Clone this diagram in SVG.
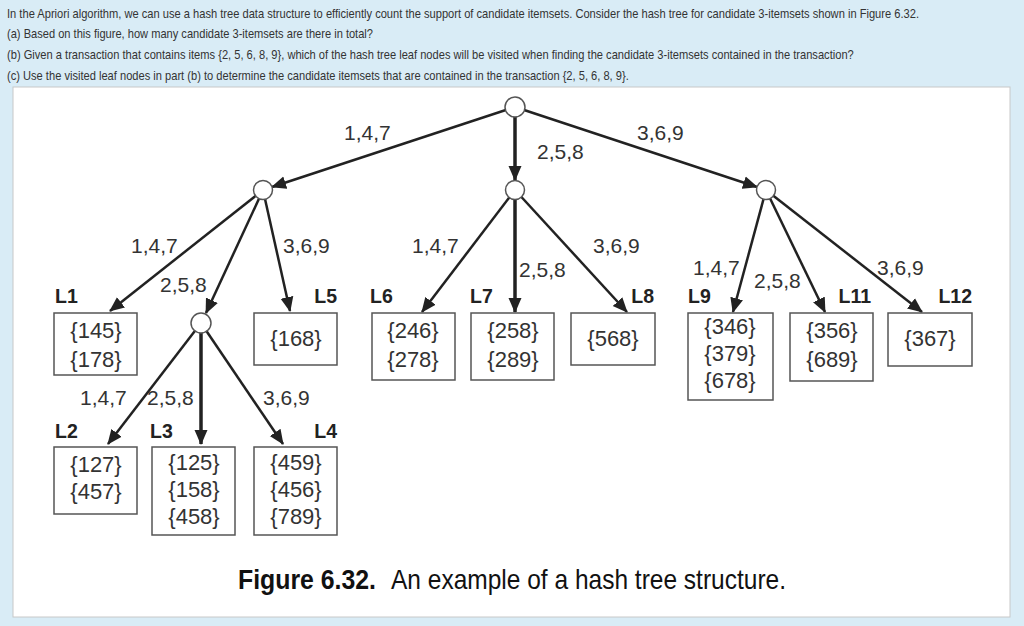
<svg xmlns="http://www.w3.org/2000/svg" width="1024" height="626" viewBox="0 0 1024 626">
<style>
.hd{font-family:"Liberation Sans",Arial,sans-serif;font-size:13.5px;fill:#333}
.lb{font-family:"Liberation Sans",Arial,sans-serif;font-size:21px;fill:#333}
.st{font-family:"Liberation Sans",Arial,sans-serif;font-size:22px;fill:#333;text-anchor:middle}
.lf{font-family:"Liberation Sans",Arial,sans-serif;font-size:19.5px;font-weight:bold;fill:#222}
.box{fill:#fff;stroke:#555;stroke-width:1.5}
.nd{fill:#fff;stroke:#555;stroke-width:1.5}
.e{stroke:#222;stroke-width:2.5;fill:none;marker-end:url(#ah)}
.ev{stroke:#222;stroke-width:3.5;fill:none;marker-end:url(#ah)}
.cap{font-family:"Liberation Sans",Arial,sans-serif;font-size:28px;fill:#111}
</style>
<defs>
<marker id="ah" markerUnits="userSpaceOnUse" markerWidth="16" markerHeight="14" refX="14" refY="7" orient="auto">
<path d="M0,0.5 L15,7 L0,13.5 Z" fill="#222"/>
</marker>
</defs>
<rect x="0" y="0" width="1024" height="626" fill="#d9ecf6"/>
<rect x="13" y="87" width="997" height="530" fill="#fff" stroke="#c8c8c8" stroke-width="1"/>
<g id="header">
<text class="hd" transform="translate(7,18) scale(0.75,1)" x="0" y="0" textLength="1216" lengthAdjust="spacingAndGlyphs">In the Apriori algorithm, we can use a hash tree data structure to efficiently count the support of candidate itemsets. Consider the hash tree for candidate 3-itemsets shown in Figure 6.32.</text>
<text class="hd" transform="translate(7,38) scale(0.75,1)" x="0" y="0" textLength="488" lengthAdjust="spacingAndGlyphs">(a) Based on this figure, how many candidate 3-itemsets are there in total?</text>
<text class="hd" transform="translate(7,59) scale(0.75,1)" x="0" y="0" textLength="1129" lengthAdjust="spacingAndGlyphs">(b) Given a transaction that contains items {2, 5, 6, 8, 9}, which of the hash tree leaf nodes will be visited when finding the candidate 3-itemsets contained in the transaction?</text>
<text class="hd" transform="translate(7,80) scale(0.75,1)" x="0" y="0" textLength="829" lengthAdjust="spacingAndGlyphs">(c) Use the visited leaf nodes in part (b) to determine the candidate itemsets that are contained in the transaction {2, 5, 6, 8, 9}.</text>
</g>
<g id="connectors">
<line class="e" x1="515" y1="107" x2="272" y2="187"/>
<line class="ev" x1="515" y1="107" x2="515" y2="180"/>
<line class="e" x1="515" y1="107" x2="757" y2="187"/>
<line class="e" x1="263" y1="190" x2="110" y2="311"/>
<line class="e" x1="263" y1="190" x2="206" y2="313"/>
<line class="e" x1="263" y1="190" x2="290" y2="311"/>
<line class="e" x1="515" y1="190" x2="422" y2="312"/>
<line class="ev" x1="515" y1="190" x2="515" y2="312"/>
<line class="e" x1="515" y1="190" x2="627" y2="312"/>
<line class="e" x1="766" y1="190" x2="733" y2="312"/>
<line class="e" x1="766" y1="190" x2="825" y2="312"/>
<line class="e" x1="766" y1="190" x2="922" y2="312"/>
<line class="e" x1="201" y1="323" x2="108" y2="444"/>
<line class="ev" x1="201" y1="323" x2="201" y2="444"/>
<line class="e" x1="201" y1="323" x2="283" y2="444"/>
</g>
<g id="edge-labels">
<text class="lb" x="344" y="140">1,4,7</text>
<text class="lb" x="537" y="159">2,5,8</text>
<text class="lb" x="637" y="140">3,6,9</text>
<text class="lb" x="131" y="253">1,4,7</text>
<text class="lb" x="160" y="292">2,5,8</text>
<text class="lb" x="283" y="253">3,6,9</text>
<text class="lb" x="412" y="253">1,4,7</text>
<text class="lb" x="519" y="277">2,5,8</text>
<text class="lb" x="593" y="253">3,6,9</text>
<text class="lb" x="693" y="275">1,4,7</text>
<text class="lb" x="754" y="288">2,5,8</text>
<text class="lb" x="877" y="275">3,6,9</text>
<text class="lb" x="80" y="405">1,4,7</text>
<text class="lb" x="147" y="405">2,5,8</text>
<text class="lb" x="263" y="405">3,6,9</text>
</g>
<g id="root"><circle class="nd" cx="515" cy="107" r="10"/></g>
<g id="n-left"><circle class="nd" cx="263" cy="190" r="9.5"/></g>
<g id="n-mid"><circle class="nd" cx="515" cy="190" r="9.5"/></g>
<g id="n-right"><circle class="nd" cx="766" cy="190" r="9.5"/></g>
<g id="n-leftmid"><circle class="nd" cx="201" cy="323" r="10"/></g>
<g id="L1">
<text class="lf" x="55" y="303">L1</text>
<rect class="box" x="54" y="313" width="83" height="62"/>
<text class="st" x="96" y="338">{145}</text>
<text class="st" x="96" y="367">{178}</text>
</g>
<g id="L5">
<text class="lf" x="337" y="303" text-anchor="end">L5</text>
<rect class="box" x="254" y="313" width="83" height="52"/>
<text class="st" x="296" y="346">{168}</text>
</g>
<g id="L2">
<text class="lf" x="55" y="438">L2</text>
<rect class="box" x="54" y="447" width="83" height="67"/>
<text class="st" x="96" y="472">{127}</text>
<text class="st" x="96" y="499">{457}</text>
</g>
<g id="L3">
<text class="lf" x="150" y="438">L3</text>
<rect class="box" x="152" y="447" width="83" height="88"/>
<text class="st" x="194" y="470">{125}</text>
<text class="st" x="194" y="497">{158}</text>
<text class="st" x="194" y="524">{458}</text>
</g>
<g id="L4">
<text class="lf" x="337" y="438" text-anchor="end">L4</text>
<rect class="box" x="254" y="447" width="83" height="88"/>
<text class="st" x="296" y="470">{459}</text>
<text class="st" x="296" y="497">{456}</text>
<text class="st" x="296" y="524">{789}</text>
</g>
<g id="L6">
<text class="lf" x="370" y="303">L6</text>
<rect class="box" x="372" y="313" width="83" height="67"/>
<text class="st" x="413" y="338">{246}</text>
<text class="st" x="413" y="367">{278}</text>
</g>
<g id="L7">
<text class="lf" x="470" y="303">L7</text>
<rect class="box" x="471" y="313" width="83" height="67"/>
<text class="st" x="513" y="338">{258}</text>
<text class="st" x="513" y="367">{289}</text>
</g>
<g id="L8">
<text class="lf" x="654" y="303" text-anchor="end">L8</text>
<rect class="box" x="571" y="313" width="84" height="52"/>
<text class="st" x="613" y="346">{568}</text>
</g>
<g id="L9">
<text class="lf" x="688" y="303">L9</text>
<rect class="box" x="688" y="313" width="85" height="87"/>
<text class="st" x="730" y="334">{346}</text>
<text class="st" x="730" y="361">{379}</text>
<text class="st" x="730" y="388">{678}</text>
</g>
<g id="L11">
<text class="lf" x="871" y="303" text-anchor="end">L11</text>
<rect class="box" x="790" y="313" width="83" height="68"/>
<text class="st" x="832" y="338">{356}</text>
<text class="st" x="832" y="367">{689}</text>
</g>
<g id="L12">
<text class="lf" x="972" y="303" text-anchor="end">L12</text>
<rect class="box" x="888" y="313" width="84" height="53"/>
<text class="st" x="930" y="346">{367}</text>
</g>
<g id="caption">
<text class="cap" x="238" y="589" font-weight="bold" textLength="138" lengthAdjust="spacingAndGlyphs">Figure 6.32.</text>
<text class="cap" x="391" y="589" textLength="395" lengthAdjust="spacingAndGlyphs">An example of a hash tree structure.</text>
</g>
</svg>
